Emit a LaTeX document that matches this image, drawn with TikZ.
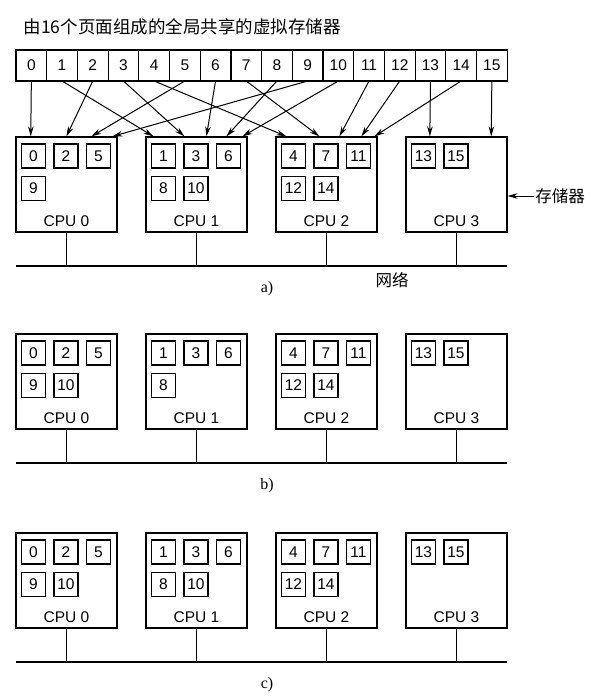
\documentclass[tikz,border=0pt]{standalone}
\usepackage{fontspec}
\setmainfont{Liberation Serif}
\setsansfont{Liberation Sans}
\newfontfamily\cjk{Noto Sans CJK SC}
\usetikzlibrary{arrows.meta,positioning}

% pages held by one CPU: #1 = cpu node, #2 = page list
\newcommand{\putpages}[2]{%
  \foreach \q [count=\k from 0] in {#2} {
    \pgfmathtruncatemacro{\col}{mod(\k,3)}
    \pgfmathtruncatemacro{\row}{div(\k,3)}
    \node[frame] (#1-\q) at ([xshift=18pt+32.5pt*\col, yshift=-19.5pt-32.5pt*\row]#1.north west) {\q};
  }}

\begin{document}
\begin{tikzpicture}[x=1pt,y=-1pt,line width=1.2pt]
    % Define block styles
    \tikzstyle{page} = [rectangle, draw, outer sep=0pt, inner sep=0pt,
        minimum width=30.7pt, minimum height=31pt, font=\fontsize{15.5}{18}\selectfont\sffamily]
    \tikzstyle{frame} = [rectangle, draw, inner sep=0pt, minimum size=24pt,
        font=\fontsize{15.5}{18}\selectfont\sffamily]
    \tikzstyle{cpubox} = [rectangle, draw, minimum width=101pt, minimum height=95pt]
    \tikzstyle{cpulabel} = [inner sep=0pt, font=\fontsize{15.5}{18}\selectfont\sffamily]
    \tikzstyle{cjklabel} = [inner sep=1pt, font=\fontsize{16.5}{20}\selectfont\cjk]
    \tikzstyle{line} = [draw, line width=1pt, -{Stealth[length=10pt,width=5.5pt]}] % Arrow with direction

    \useasboundingbox (0,0) rectangle (597,699);

    % Title and the shared address space
    \node[anchor=west, inner sep=0pt, font=\fontsize{17.5}{21}\selectfont\cjk] (title) at (23,27)
        {由16个页面组成的全局共享的虚拟存储器};
    \node[page] (p0) at (31.35,65.5) {0};
    \foreach \i [remember=\i as \j (initially 0)] in {1,...,15}
        \node[page, right=0pt of p\j] (p\i) {\i};

    % Place the three machines
    \foreach \pan/\dy/\lab in {a/0/a), b/197/b), c/396/c)} {
        \foreach \cpu in {0,...,3} {
            \node[cpubox] (\pan\cpu) at ({66.5+130*\cpu}, {184.5+\dy}) {};
            \node[cpulabel] (\pan\cpu-name) at ([yshift=11pt]\pan\cpu.south) {CPU \cpu};
        }
        \coordinate (\pan-netl) at (16, {266+\dy});
        \coordinate (\pan-netr) at (507, {266+\dy});
        \draw (\pan-netl) -- (\pan-netr);
        \foreach \cpu in {0,...,3}
            \draw (\pan\cpu.south) -- (\pan\cpu.south |- \pan-netl);
        \node[font=\fontsize{16}{19}\selectfont] (\pan-cap) at (267, {289+\dy}) {\lab};
    }

    % Pages in each CPU
    \putpages{a0}{0,2,5,9}
    \putpages{a1}{1,3,6,8,10}
    \putpages{a2}{4,7,11,12,14}
    \putpages{a3}{13,15}
    \putpages{b0}{0,2,5,9,10}
    \putpages{b1}{1,3,6,8}
    \putpages{b2}{4,7,11,12,14}
    \putpages{b3}{13,15}
    \putpages{c0}{0,2,5,9,10}
    \putpages{c1}{1,3,6,8,10}
    \putpages{c2}{4,7,11,12,14}
    \putpages{c3}{13,15}

    % Draw arrows
    \foreach \pg/\cpu/\dx in {0/0/15.35, 2/0/51, 5/0/76, 9/0/97, 1/1/8, 3/1/39, 6/1/61, 8/1/81,
            10/1/97, 4/2/11, 7/2/44, 11/2/64, 12/2/86, 14/2/99, 13/3/24.45, 15/3/85.85}
        \path [line] (p\pg.south) -- ([xshift=\dx pt]a\cpu.north west);

    \node[cjklabel] (mem) at (560,196) {存储器};
    \path [line] (mem.west) -- (mem.west -| a3.east);
    \node[cjklabel] (net) at (392,280) {网络};
\end{tikzpicture}
\end{document}
